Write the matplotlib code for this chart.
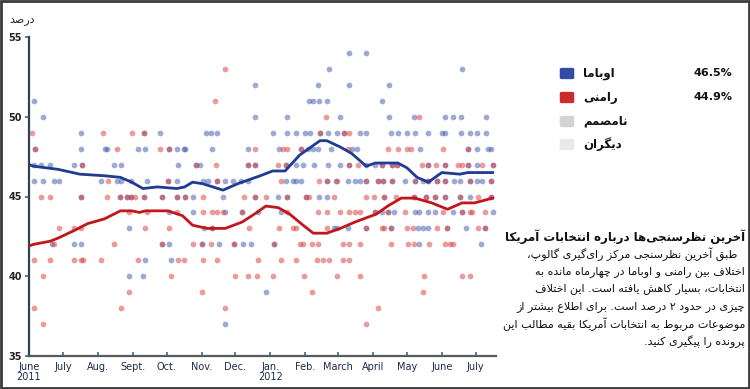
import matplotlib
matplotlib.use('Agg')
import matplotlib.pyplot as plt
from matplotlib.patches import FancyBboxPatch, Rectangle

# days since 1 June 2011
month_days = [0, 30, 61, 92, 122, 153, 183, 214, 245, 274, 305, 335, 366, 396]
month_labels = ['June\n2011', 'July', 'Aug.', 'Sept.', 'Oct.', 'Nov.', 'Dec.', 'Jan.\n2012',
                'Feb.', 'March', 'April', 'May', 'June', 'July']
y_ticks = [35, 40, 45, 50, 55]

# trend lines (day, percent)
obama_days = [0, 4, 26, 45, 67, 81, 91, 101, 114, 131, 138, 145, 154, 172, 185, 205, 216, 227,
              240, 258, 264, 276, 286, 299, 307, 327, 335, 344, 354, 360, 366, 382, 389, 411]
obama_trend = [47.0, 46.9, 46.7, 46.4, 46.3, 46.2, 45.9, 45.5, 45.6, 45.5, 45.6, 45.9, 45.8, 45.4,
               45.8, 46.3, 46.6, 46.6, 47.6, 48.5, 48.5, 48.1, 47.7, 46.9, 47.1, 47.1, 46.8, 46.2,
               45.9, 46.2, 46.5, 46.4, 46.5, 46.5]
romney_days = [0, 4, 19, 26, 41, 52, 67, 81, 91, 98, 103, 123, 136, 145, 158, 174, 189, 202, 210,
               221, 231, 243, 252, 264, 276, 289, 308, 318, 330, 342, 357, 371, 384, 395, 411]
romney_trend = [41.9, 42.0, 42.2, 42.4, 42.9, 43.3, 43.6, 44.1, 44.1, 44.0, 44.1, 44.1, 43.8, 43.2,
                43.0, 43.0, 43.4, 44.0, 44.4, 44.3, 43.9, 43.2, 42.7, 42.7, 43.0, 43.4, 43.9, 44.4,
                44.9, 44.9, 44.6, 44.2, 44.6, 44.6, 44.9]

# individual polls: percent -> days
obama_polls = {
    54: [284, 299],
    53: [266, 384],
    52: [200, 256, 284, 319],
    51: [4, 248, 252, 257, 264, 313],
    50: [12, 200, 229, 276, 319, 341, 369, 376, 383, 405],
    49: [46, 102, 116, 157, 161, 167, 216, 229, 237, 245, 249, 258, 265, 273, 279, 293, 299, 321,
         327, 335, 342, 354, 366, 369, 383, 391, 397, 405],
    48: [5, 46, 67, 69, 97, 103, 124, 131, 137, 138, 162, 194, 222, 241, 247, 252, 256, 268, 286,
         291, 347, 389, 397, 407, 410],
    47: [4, 11, 19, 40, 47, 75, 82, 132, 148, 152, 194, 200, 228, 237, 243, 253, 265, 276, 284, 299,
         307, 313, 322, 326, 354, 369, 389, 397, 411],
    46: [4, 12, 22, 27, 64, 78, 82, 90, 105, 123, 131, 154, 159, 167, 174, 181, 188, 194, 228, 234,
         237, 241, 264, 272, 283, 289, 293, 299, 309, 314, 322, 333, 342, 349, 354, 362, 369, 377,
         382, 391, 397, 402, 410],
    45: [46, 81, 87, 90, 102, 118, 131, 138, 145, 172, 200, 221, 229, 246, 257, 264, 315, 341, 352,
         360, 369, 382, 391, 410],
    44: [124, 145, 174, 189, 203, 223, 307, 313, 318, 324, 342, 346, 354, 360, 376, 384, 411],
    43: [89, 155, 162, 270, 273, 283, 299, 321, 345, 349, 354, 371, 387, 404],
    42: [20, 40, 46, 118, 124, 153, 168, 182, 190, 197, 217, 346, 401],
    41: [103, 126],
    40: [89, 101],
    39: [210],
    37: [174],
}
romney_polls = {
    53: [174],
    51: [165],
    50: [263, 346],
    49: [3, 66, 91, 102, 258, 279, 284],
    48: [5, 78, 116, 124, 200, 225, 229, 241, 283, 318, 327, 335, 339, 367, 389],
    47: [47, 148, 166, 194, 200, 221, 228, 284, 292, 313, 322, 326, 348, 354, 361, 369, 380, 384,
         389, 402, 411],
    46: [70, 123, 167, 223, 257, 264, 273, 299, 309, 314, 322, 342, 354, 362, 369, 391, 410],
    45: [11, 19, 46, 69, 81, 87, 90, 94, 102, 118, 131, 138, 154, 191, 200, 210, 229, 246, 248, 270,
         299, 306, 315, 325, 341, 352, 360, 369, 382, 398, 410],
    44: [89, 105, 131, 154, 162, 167, 172, 189, 229, 256, 264, 276, 284, 289, 293, 307, 318, 333,
         367, 384, 391, 393, 404],
    43: [27, 40, 46, 103, 124, 162, 195, 222, 234, 237, 264, 299, 313, 315, 321, 335, 340, 362, 371,
         398, 404],
    42: [22, 75, 118, 145, 153, 161, 182, 217, 240, 243, 251, 256, 278, 284, 293, 321, 336, 341,
         355, 369, 373, 376],
    41: [4, 19, 40, 46, 48, 64, 97, 132, 137, 154, 167, 203, 223, 237, 255, 261, 266, 278, 284],
    40: [12, 126, 183, 194, 202, 216, 244, 273, 293, 350, 384, 391],
    39: [89, 153, 251, 349],
    38: [4, 82, 174, 309],
    37: [12, 299],
}

legend_names = ['اوباما', 'رامنی', 'نامصمم', 'دیگران']
legend_values = ['46.5%', '44.9%', '', '']
legend_colors = ['#2f4ea3', '#cc2b2b', '#d3d3d3', '#e9e9e9']

title_text = 'آخرین نظرسنجی‌ها درباره انتخابات آمریکا'
body_lines = [
    'طبق آخرین نظرسنجی مرکز رای‌گیری گالوپ،',
    'اختلاف بین رامنی و اوباما در چهارماه مانده به',
    'انتخابات، بسیار کاهش یافته است. این اختلاف',
    'چیزی در حدود ۲ درصد است. برای اطلاع بیشتر از',
    'موضوعات مربوط به انتخابات آمریکا بقیه مطالب این',
    'پرونده را پیگیری کنید.',
]

# --- tiny Persian shaper (matplotlib has no complex text layout) ---
FORMS = {
    'ا': (0xFE8D, 0xFE8E, None, None), 'آ': (0xFE81, 0xFE82, None, None),
    'ب': (0xFE8F, 0xFE90, 0xFE91, 0xFE92), 'پ': (0xFB56, 0xFB57, 0xFB58, 0xFB59),
    'ت': (0xFE95, 0xFE96, 0xFE97, 0xFE98), 'ث': (0xFE99, 0xFE9A, 0xFE9B, 0xFE9C),
    'ج': (0xFE9D, 0xFE9E, 0xFE9F, 0xFEA0), 'چ': (0xFB7A, 0xFB7B, 0xFB7C, 0xFB7D),
    'ح': (0xFEA1, 0xFEA2, 0xFEA3, 0xFEA4), 'خ': (0xFEA5, 0xFEA6, 0xFEA7, 0xFEA8),
    'د': (0xFEA9, 0xFEAA, None, None), 'ذ': (0xFEAB, 0xFEAC, None, None),
    'ر': (0xFEAD, 0xFEAE, None, None), 'ز': (0xFEAF, 0xFEB0, None, None),
    'ژ': (0xFB8A, 0xFB8B, None, None),
    'س': (0xFEB1, 0xFEB2, 0xFEB3, 0xFEB4), 'ش': (0xFEB5, 0xFEB6, 0xFEB7, 0xFEB8),
    'ص': (0xFEB9, 0xFEBA, 0xFEBB, 0xFEBC), 'ض': (0xFEBD, 0xFEBE, 0xFEBF, 0xFEC0),
    'ط': (0xFEC1, 0xFEC2, 0xFEC3, 0xFEC4), 'ظ': (0xFEC5, 0xFEC6, 0xFEC7, 0xFEC8),
    'ع': (0xFEC9, 0xFECA, 0xFECB, 0xFECC), 'غ': (0xFECD, 0xFECE, 0xFECF, 0xFED0),
    'ف': (0xFED1, 0xFED2, 0xFED3, 0xFED4), 'ق': (0xFED5, 0xFED6, 0xFED7, 0xFED8),
    'ک': (0xFB8E, 0xFB8F, 0xFB90, 0xFB91), 'گ': (0xFB92, 0xFB93, 0xFB94, 0xFB95),
    'ل': (0xFEDD, 0xFEDE, 0xFEDF, 0xFEE0), 'م': (0xFEE1, 0xFEE2, 0xFEE3, 0xFEE4),
    'ن': (0xFEE5, 0xFEE6, 0xFEE7, 0xFEE8), 'و': (0xFEED, 0xFEEE, None, None),
    'ه': (0xFEE9, 0xFEEA, 0xFEEB, 0xFEEC), 'ی': (0xFBFC, 0xFBFD, 0xFBFE, 0xFBFF),
    'ئ': (0xFE89, 0xFE8A, 0xFE8B, 0xFE8C),
}
LAM_ALEF = {'ا': (0xFEFB, 0xFEFC), 'آ': (0xFEF5, 0xFEF6)}


def fa(text):
    out = []
    i = 0
    n = len(text)
    while i < n:
        c = text[i]
        if c not in FORMS:
            out.append(c)
            i += 1
            continue
        prev = text[i - 1] if i > 0 else ''
        jp = prev in FORMS and FORMS[prev][2] is not None
        nxt = text[i + 1] if i + 1 < n else ''
        if c == 'ل' and nxt in LAM_ALEF:
            out.append(chr(LAM_ALEF[nxt][1 if jp else 0]))
            i += 2
            continue
        f = FORMS[c]
        jn = f[2] is not None and nxt in FORMS
        if jp and jn:
            out.append(chr(f[3]))
        elif jp:
            out.append(chr(f[1]))
        elif jn:
            out.append(chr(f[2]))
        else:
            out.append(chr(f[0]))
        i += 1
    return ''.join(out).replace('\u200c', '')[::-1]


plt.rcParams['font.family'] = ['DejaVu Sans']

fig = plt.figure(figsize=(7.5, 3.89), dpi=100)
fig.patch.set_facecolor('white')
ax = fig.add_axes([29 / 750, 1 - 356 / 389, 467 / 750, 319 / 389])

for val, days in obama_polls.items():
    ax.scatter(days, [val] * len(days), s=17, color='#3a56ad', alpha=0.5, linewidths=0, zorder=2)
for val, days in romney_polls.items():
    ax.scatter(days, [val] * len(days), s=17, color='#d8393b', alpha=0.5, linewidths=0, zorder=2)

ax.plot(obama_days, obama_trend, color='#1f3b92', lw=2.0, zorder=3)
ax.plot(romney_days, romney_trend, color='#c3161c', lw=2.0, zorder=3)

ax.set_xlim(0, 414)
ax.set_ylim(35, 55)
ax.set_xticks(month_days)
ax.set_xticklabels(month_labels, fontsize=7, color='#1d2b4c', linespacing=1.05)
ax.set_yticks(y_ticks)
ax.set_yticklabels([str(v) for v in y_ticks], fontsize=7, color='#222222', fontweight='bold')
ax.tick_params(axis='x', direction='in', length=3, width=1.2, color='#2a6f9a', pad=4)
ax.tick_params(axis='y', direction='out', length=3, width=1.2, color='#2a6f9a', pad=2)
for side in ['top', 'right']:
    ax.spines[side].set_visible(False)
ax.spines['left'].set_color('#2d4654')
ax.spines['left'].set_linewidth(1.6)
ax.spines['bottom'].set_color('#5a5a5a')
ax.spines['bottom'].set_linewidth(1.6)

fig.text(22 / 750, 1 - 20 / 389, fa('درصد'), fontsize=8, ha='center', va='center', color='#222222')

# legend
rows_y = [73, 97, 121, 144]
for name, val, col, py in zip(legend_names, legend_values, legend_colors, rows_y):
    fig.patches.append(FancyBboxPatch(((562) / 750, 1 - (py + 5) / 389), 10 / 750, 9 / 389,
                                      boxstyle='round,pad=0.003', transform=fig.transFigure,
                                      facecolor=col, edgecolor='none'))
    fig.text(583 / 750, 1 - py / 389, fa(name), fontsize=8.5, fontweight='bold',
             ha='left', va='center', color='#111111')
    if val:
        fig.text(732 / 750, 1 - py / 389, val, fontsize=8, fontweight='bold',
                 ha='right', va='center', color='#111111')

# text block
fig.text(745 / 750, 1 - 237 / 389, fa(title_text), fontsize=8.5, fontweight='bold',
         ha='right', va='center', color='#111111')
for k, line in enumerate(body_lines):
    x_right = 737 if k == 0 else 745
    fig.text(x_right / 750, 1 - (254 + 17.6 * k) / 389, fa(line), fontsize=8,
             ha='right', va='center', color='#111111')

fig.patches.append(Rectangle((0.001, 0.002), 0.997, 0.995, transform=fig.transFigure,
                             fill=False, edgecolor='#3a3a3a', linewidth=2))

fig.savefig('out.png', dpi=100)
